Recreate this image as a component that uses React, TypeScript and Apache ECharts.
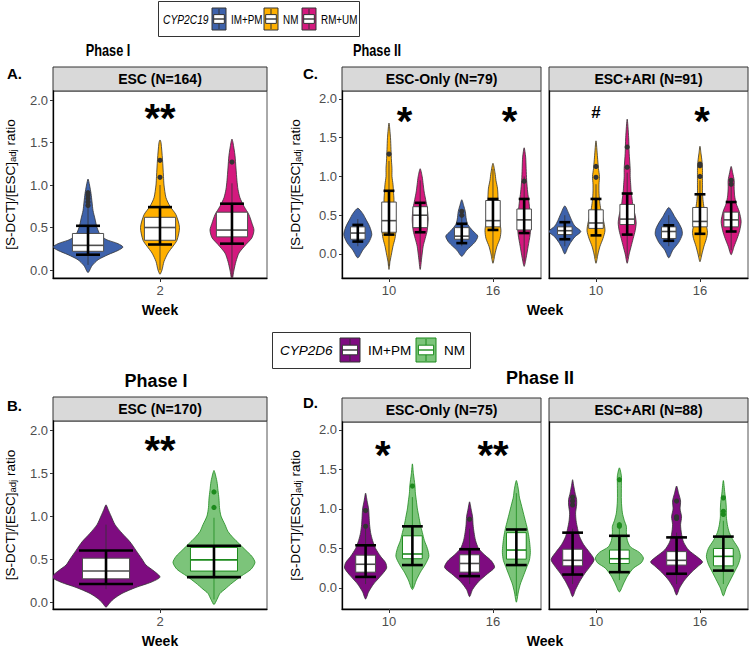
import React, { useEffect, useRef } from "react";
import * as echarts from "echarts";

const FONT = "'Liberation Sans', Arial, Helvetica, sans-serif";

// ---------------- DATA ----------------
const weeksPhase1 = ["2"];
const weeksPhase2 = ["10", "16"];
const groups2C19 = ["IM+PM", "NM", "RM+UM"];
const groups2D6 = ["IM+PM", "NM"];
const stripA = ["ESC (N=164)"];
const stripC = ["ESC-Only (N=79)", "ESC+ARI (N=91)"];
const stripB = ["ESC (N=170)"];
const stripD = ["ESC-Only (N=75)", "ESC+ARI (N=88)"];
const yTicks = [0, 0.5, 1, 1.5, 2];

// violin profiles: [ratio, relative density]
const profA = [
  [[-0.03, 0], [0.05, 4], [0.12, 10], [0.18, 20], [0.23, 30], [0.27, 35], [0.31, 30], [0.36, 18], [0.42, 12], [0.5, 9], [0.6, 7], [0.7, 5], [0.8, 4], [0.9, 3], [1.0, 1.5], [1.07, 0]],
  [[-0.05, 0], [0.0, 2], [0.1, 4], [0.2, 8], [0.28, 13], [0.35, 17], [0.5, 19.5], [0.65, 16], [0.75, 10], [0.85, 6], [1.0, 4], [1.1, 3.5], [1.3, 2.5], [1.5, 1], [1.53, 0]],
  [[-0.12, 0], [0.0, 2], [0.1, 4], [0.2, 7], [0.3, 14], [0.38, 20], [0.47, 22], [0.55, 20], [0.65, 17], [0.75, 12], [0.85, 8], [0.95, 6], [1.05, 5], [1.2, 4], [1.35, 3], [1.5, 1], [1.54, 0]],
];
const boxA = [[0.22, 0.29, 0.43], [0.35, 0.5, 0.62], [0.39, 0.47, 0.68]];
const whiskA = [[0.06, 0.74], [0.0, 1.0], [-0.1, 1.02]];
const errA = [[0.18, 0.52], [0.3, 0.74], [0.31, 0.78]];
const outA = [[0.76, 0.8, 0.84, 0.88, 0.91], [1.09, 1.29], [1.27]];

const profB = [
  [[-0.06, 0], [-0.02, 3], [0.03, 7], [0.1, 16], [0.17, 30], [0.23, 45], [0.29, 54], [0.36, 48], [0.43, 40], [0.5, 36], [0.6, 30], [0.7, 24], [0.8, 16], [0.9, 9], [1.0, 5], [1.08, 2], [1.13, 0]],
  [[-0.03, 0], [0.03, 3], [0.1, 6], [0.15, 11], [0.22, 18], [0.3, 27], [0.38, 37], [0.46, 41], [0.53, 38], [0.6, 32], [0.68, 25], [0.75, 19], [0.82, 14], [0.9, 11], [1.0, 7], [1.1, 5.5], [1.2, 5], [1.3, 4], [1.4, 3], [1.5, 1], [1.53, 0]],
];
const boxB = [[0.27, 0.36, 0.51], [0.36, 0.49, 0.635]];
const whiskB = [[0.15, 0.9], [0.03, 0.98]];
const errB = [[0.21, 0.6], [0.29, 0.655]];
const outB = [[], [1.1, 1.28]];

// order: ESC-Only wk10 (3 groups), wk16, ESC+ARI wk10, wk16
const profC = [
  [[-0.05, 0], [0.05, 5], [0.15, 11], [0.25, 14], [0.35, 12], [0.45, 8], [0.52, 5], [0.59, 0]],
  [[-0.2, 0], [-0.1, 1], [0.0, 2.5], [0.1, 4], [0.2, 6], [0.3, 7], [0.4, 6.5], [0.5, 5.5], [0.6, 5], [0.7, 5], [0.8, 4.5], [0.9, 4], [1.0, 3], [1.1, 3], [1.2, 2.5], [1.35, 2], [1.5, 1.5], [1.69, 0]],
  [[-0.2, 0], [-0.05, 1.5], [0.1, 3], [0.2, 5], [0.3, 7], [0.45, 8], [0.6, 7], [0.7, 5.5], [0.8, 4], [0.9, 3], [1.0, 2], [1.1, 0]],
  [[-0.03, 0], [0.05, 5], [0.15, 13], [0.23, 16], [0.3, 11], [0.38, 6], [0.45, 4.5], [0.55, 3.5], [0.62, 2], [0.7, 0]],
  [[-0.12, 0], [0.0, 2], [0.1, 4], [0.2, 7], [0.3, 8], [0.4, 7], [0.5, 6], [0.6, 5], [0.75, 5], [0.85, 4.5], [0.95, 3], [1.05, 2], [1.17, 0]],
  [[-0.16, 0], [-0.05, 2], [0.1, 4], [0.25, 6], [0.35, 6.5], [0.5, 6], [0.65, 5], [0.8, 3.5], [0.95, 2.5], [1.1, 2], [1.25, 1.5], [1.37, 0]],
  [[0.0, 0], [0.08, 3], [0.15, 6], [0.22, 10], [0.29, 16], [0.36, 10], [0.43, 7], [0.52, 4], [0.62, 0]],
  [[-0.12, 0], [0.0, 2], [0.1, 4], [0.2, 7], [0.3, 9], [0.4, 8], [0.5, 6], [0.6, 4.5], [0.7, 3.5], [0.8, 3], [0.9, 3], [1.0, 3.5], [1.1, 2.5], [1.25, 1.5], [1.46, 0]],
  [[-0.12, 0], [0.0, 2], [0.1, 4], [0.2, 6], [0.3, 8], [0.4, 9], [0.5, 8], [0.6, 6], [0.7, 5], [0.8, 4], [0.9, 3.5], [1.0, 3], [1.1, 3], [1.3, 2], [1.5, 1.5], [1.74, 0]],
  [[-0.05, 0], [0.05, 4], [0.15, 10], [0.25, 13.5], [0.32, 13], [0.4, 10], [0.48, 6], [0.55, 3], [0.6, 0]],
  [[-0.1, 0], [0.0, 2], [0.1, 4], [0.2, 6.5], [0.28, 7.5], [0.4, 6], [0.5, 5], [0.6, 4], [0.7, 3], [0.8, 2.5], [0.9, 2.5], [1.0, 2.5], [1.1, 2.5], [1.2, 2], [1.3, 1], [1.39, 0]],
  [[-0.01, 0], [0.1, 3], [0.2, 6], [0.3, 8.5], [0.42, 10], [0.55, 8], [0.65, 5], [0.75, 3.5], [0.85, 3], [0.95, 3], [1.05, 1.5], [1.13, 0]],
];
const boxC = [[0.19, 0.27, 0.35], [0.28, 0.43, 0.67], [0.34, 0.5, 0.61], [0.19, 0.23, 0.34], [0.35, 0.43, 0.69], [0.31, 0.44, 0.58], [0.25, 0.3, 0.35], [0.33, 0.4, 0.57], [0.38, 0.45, 0.64], [0.2, 0.29, 0.35], [0.35, 0.42, 0.6], [0.35, 0.44, 0.54]];
const whiskC = [[0.1, 0.45], [-0.15, 1.2], [-0.1, 0.95], [0.1, 0.5], [-0.05, 1.1], [-0.1, 1.0], [0.1, 0.5], [-0.05, 0.9], [-0.05, 1.05], [0.1, 0.5], [-0.03, 0.95], [0.05, 0.9]];
const errC = [[0.16, 0.375], [0.25, 0.815], [0.28, 0.66], [0.14, 0.39], [0.31, 0.71], [0.27, 0.71], [0.19, 0.41], [0.24, 0.71], [0.25, 0.78], [0.17, 0.37], [0.26, 0.77], [0.29, 0.67]];
const outC = [[], [1.29], [], [0.5, 0.55], [], [0.94], [], [0.99, 1.13], [1.12, 1.38], [], [1.0, 1.14, 1.16], [0.9, 0.95]];

// order: ESC-Only wk10 (2 groups), wk16, ESC+ARI wk10, wk16
const profD = [
  [[-0.14, 0], [-0.05, 3], [0.05, 8], [0.15, 15], [0.25, 21], [0.32, 20], [0.4, 15], [0.5, 10], [0.6, 7], [0.7, 5], [0.8, 4], [0.9, 3.5], [1.0, 3], [1.1, 1.5], [1.2, 0]],
  [[-0.02, 0], [0.1, 4], [0.2, 8], [0.3, 13], [0.4, 16.5], [0.5, 15], [0.6, 12], [0.7, 10], [0.8, 8], [0.9, 6.5], [1.0, 5], [1.1, 4], [1.2, 3], [1.3, 2.5], [1.45, 1], [1.57, 0]],
  [[-0.11, 0], [-0.02, 3], [0.08, 9], [0.18, 18], [0.26, 25], [0.34, 22], [0.42, 15], [0.5, 9], [0.6, 6], [0.7, 4.5], [0.8, 3.5], [0.9, 3], [1.0, 1.5], [1.09, 0]],
  [[-0.18, 0], [-0.05, 2], [0.05, 4], [0.15, 7], [0.25, 10], [0.35, 13], [0.45, 14], [0.55, 13.5], [0.65, 12.5], [0.75, 11], [0.85, 9], [0.95, 7], [1.05, 5], [1.15, 3], [1.25, 2], [1.36, 0]],
  [[-0.11, 0], [-0.02, 3], [0.08, 7], [0.18, 12], [0.28, 18], [0.36, 21.5], [0.45, 17], [0.55, 11], [0.65, 7], [0.75, 5], [0.85, 3.5], [0.95, 3], [1.05, 4], [1.12, 4], [1.2, 2.5], [1.3, 1], [1.37, 0]],
  [[-0.05, 0], [0.05, 4], [0.15, 8], [0.25, 14], [0.32, 22], [0.38, 24], [0.45, 20], [0.52, 11], [0.6, 8], [0.7, 7], [0.78, 7], [0.85, 5], [0.95, 3], [1.1, 2], [1.3, 2], [1.42, 2], [1.52, 0]],
  [[-0.09, 0], [0.0, 3], [0.1, 8], [0.2, 15], [0.28, 22], [0.33, 26], [0.4, 20], [0.48, 12], [0.58, 7], [0.68, 5], [0.8, 4], [0.9, 5], [1.0, 3.5], [1.1, 4], [1.2, 2], [1.29, 0]],
  [[-0.1, 0], [0.0, 3], [0.1, 7], [0.2, 11], [0.3, 15], [0.4, 17], [0.5, 15], [0.6, 10], [0.7, 6], [0.8, 4], [0.9, 3], [1.0, 3], [1.1, 2.5], [1.2, 1.5], [1.36, 0]],
];
const boxD = [[0.2, 0.3, 0.415], [0.37, 0.43, 0.66], [0.2, 0.31, 0.42], [0.365, 0.48, 0.7], [0.28, 0.35, 0.49], [0.31, 0.37, 0.48], [0.29, 0.35, 0.46], [0.28, 0.4, 0.5]];
const whiskD = [[0.05, 0.75], [0.0, 1.15], [0.05, 0.75], [-0.1, 1.2], [0.05, 0.75], [0.1, 0.75], [0.05, 0.7], [0.05, 0.85]];
const errD = [[0.14, 0.54], [0.29, 0.78], [0.15, 0.49], [0.29, 0.74], [0.17, 0.7], [0.2, 0.66], [0.18, 0.64], [0.22, 0.65]];
const outD = [[0.78, 0.98], [1.29], [0.87], [], [1.05, 1.1, 1.15], [0.78, 0.8, 1.37], [0.88, 0.9, 1.1], [0.93, 0.97, 1.14]];

// significance marks: [label, week position (1-based), ratio]
const sigA = [["**", 1, 1.88]];
const sigB = [["**", 1, 1.86]];
const sigCLeft = [["*", 1.15, 1.82], ["*", 2.16, 1.82]];
const sigCRight = [["#", 1.0, 1.83], ["*", 2.02, 1.82]];
const sigDLeft = [["*", 0.94, 1.78], ["**", 2.0, 1.78]];
const sigDRight: any[] = [];

// ---------------- STYLE ----------------
const fill2C19 = ["#3E62AB", "#FFB000", "#D4197E"];
const fill2D6 = ["#7E0C80", "#7CC47A"];
const line2D6 = ["#333333", "#1D8A1D"];

type Item = { x: number; prof: number[][]; box: number[]; wh: number[]; err: number[]; out: number[]; fill: string; stroke: string; boxStroke: string; ptColor: string };

function buildItems(prof: number[][][], box: number[][], wh: number[][], err: number[][], out: number[][], facet: number, nWeeks: number, nGroups: number, dodge: number, is2D6: boolean): Item[] {
  const items: Item[] = [];
  for (let w = 0; w < nWeeks; w++) {
    for (let g = 0; g < nGroups; g++) {
      const i = facet * nWeeks * nGroups + w * nGroups + g;
      const off = (g - (nGroups - 1) / 2) * dodge;
      items.push({
        x: w + 1 + off,
        prof: prof[i], box: box[i], wh: wh[i], err: err[i], out: out[i],
        fill: is2D6 ? fill2D6[g] : fill2C19[g],
        stroke: is2D6 ? line2D6[g] : "#333333",
        boxStroke: is2D6 ? (g === 1 ? line2D6[1] : "#4D4D4D") : "#4D4D4D",
        ptColor: is2D6 ? (g === 1 ? line2D6[1] : "#333333") : "#333333",
      });
    }
  }
  return items;
}

function violinSeries(gi: number, items: Item[], k: number, boxW: number, capW: number) {
  return {
    type: "custom",
    xAxisIndex: gi,
    yAxisIndex: gi,
    clip: true,
    silent: true,
    z: 3,
    data: items.map((it) => [it.x, it.box[1]]),
    renderItem: (params: any, api: any) => {
      const it = items[params.dataIndex];
      const pts: number[][] = [];
      for (let i = 0; i < it.prof.length; i++) {
        const [y, d] = it.prof[i];
        pts.push(api.coord([it.x + d * k, y]));
      }
      for (let i = it.prof.length - 1; i >= 0; i--) {
        const [y, d] = it.prof[i];
        if (d === 0) continue;
        pts.push(api.coord([it.x - d * k, y]));
      }
      const ch: any[] = [];
      ch.push({ type: "polygon", shape: { points: pts, smooth: 0.25 }, style: { fill: it.fill, stroke: it.stroke, lineWidth: 0.8 } });
      const w0 = api.coord([it.x, it.wh[0]]);
      const w1 = api.coord([it.x, it.wh[1]]);
      ch.push({ type: "line", shape: { x1: w0[0], y1: w0[1], x2: w1[0], y2: w1[1] }, style: { stroke: it.stroke, lineWidth: 0.8 } });
      const b1 = api.coord([it.x - boxW / 2, it.box[2]]);
      const b2 = api.coord([it.x + boxW / 2, it.box[0]]);
      ch.push({ type: "rect", shape: { x: b1[0], y: b1[1], width: b2[0] - b1[0], height: b2[1] - b1[1] }, style: { fill: "#ffffff", stroke: it.boxStroke, lineWidth: 1 } });
      const m = api.coord([it.x, it.box[1]]);
      ch.push({ type: "line", shape: { x1: b1[0], y1: m[1], x2: b2[0], y2: m[1] }, style: { stroke: it.boxStroke, lineWidth: 1.6 } });
      const e0 = api.coord([it.x, it.err[0]]);
      const e1 = api.coord([it.x, it.err[1]]);
      const cl = api.coord([it.x - capW / 2, it.err[0]]);
      const cr = api.coord([it.x + capW / 2, it.err[1]]);
      ch.push({ type: "line", shape: { x1: e0[0], y1: e0[1], x2: e1[0], y2: e1[1] }, style: { stroke: "#000", lineWidth: 2.6 } });
      ch.push({ type: "line", shape: { x1: cl[0], y1: e0[1], x2: cr[0], y2: e0[1] }, style: { stroke: "#000", lineWidth: 2.6 } });
      ch.push({ type: "line", shape: { x1: cl[0], y1: e1[1], x2: cr[0], y2: e1[1] }, style: { stroke: "#000", lineWidth: 2.6 } });
      it.out.forEach((v) => {
        const p = api.coord([it.x, v]);
        ch.push({ type: "circle", shape: { cx: p[0], cy: p[1], r: 2.6 }, style: { fill: it.ptColor } });
      });
      return { type: "group", children: ch };
    },
  };
}

function sigSeries(gi: number, sigs: any[]) {
  return {
    type: "custom",
    xAxisIndex: gi,
    yAxisIndex: gi,
    silent: true,
    z: 4,
    data: sigs.map((s) => [s[1], s[2]]),
    renderItem: (params: any, api: any) => {
      const s = sigs[params.dataIndex];
      const p = api.coord([s[1], s[2]]);
      const star = s[0] !== "#";
      const fs = star ? 40 : 17;
      return {
        type: "text",
        x: p[0],
        y: p[1] + (star ? fs * 0.2 : 0),
        style: { text: s[0], fontSize: fs, fontWeight: "bold", fontFamily: FONT, fill: "#000", align: "center", verticalAlign: "middle", textAlign: "center", textVerticalAlign: "middle" },
      };
    },
  };
}

const gridRects = [
  { left: 53, top: 91, width: 214, height: 187 },
  { left: 342, top: 91, width: 199, height: 187 },
  { left: 549, top: 91, width: 199, height: 187 },
  { left: 53, top: 421, width: 214, height: 188 },
  { left: 342, top: 422, width: 199, height: 187 },
  { left: 549, top: 422, width: 199, height: 187 },
];
const yRanges = [[-0.094, 2.106], [-0.31, 2.103], [-0.31, 2.103], [-0.081, 2.105], [-0.266, 2.1], [-0.266, 2.1]];
const xRanges = [[0.554, 1.446], [0.548, 2.462], [0.548, 2.462], [0.554, 1.446], [0.548, 2.462], [0.548, 2.462]];
const xLabels = [weeksPhase1, weeksPhase2, weeksPhase2, weeksPhase1, weeksPhase2, weeksPhase2];

const yTitle = "{n|[S-DCT]/[ESC]}{s|adj}{n| ratio}";

function legendKey(x: number, y: number, w: number, h: number, fill: string, stroke: string, boxStroke: string) {
  const cx = x + w / 2;
  return [
    { type: "rect", shape: { x, y, width: w, height: h }, style: { fill, stroke, lineWidth: 1 } },
    { type: "line", shape: { x1: cx, y1: y + 1, x2: cx, y2: y + h - 1 }, style: { stroke: boxStroke, lineWidth: 1 } },
    { type: "rect", shape: { x: x + w * 0.12, y: y + h * 0.3, width: w * 0.76, height: h * 0.4 }, style: { fill: "#fff", stroke: boxStroke, lineWidth: 1 } },
    { type: "line", shape: { x1: x + w * 0.12, y1: y + h * 0.5, x2: x + w * 0.88, y2: y + h * 0.5 }, style: { stroke: boxStroke, lineWidth: 1.4 } },
  ];
}

function txt(text: string, x: number, y: number, size: number, opts: any = {}) {
  return {
    type: "text",
    x,
    y,
    scaleX: opts.scaleX || 1,
    rotation: opts.rotation || 0,
    style: {
      text,
      fontSize: size,
      fontFamily: FONT,
      fontWeight: opts.bold ? "bold" : "normal",
      fontStyle: opts.italic ? "italic" : "normal",
      fill: opts.color || "#000",
      textAlign: opts.align || "left",
      textVerticalAlign: "middle",
      align: opts.align || "left",
      verticalAlign: "middle",
      rich: opts.rich,
    },
  };
}

const yTitleRich = {
  n: { fontSize: 13.5, fontFamily: FONT, fill: "#000", color: "#000", lineHeight: 14, verticalAlign: "top" },
  s: { fontSize: 9.5, fontFamily: FONT, fill: "#000", color: "#000", lineHeight: 10, padding: [6.5, 0, 0, 0], verticalAlign: "bottom" },
};

function buildOption() {
  const itemsA = buildItems(profA, boxA, whiskA, errA, outA, 0, 1, 3, 0.3, false);
  const itemsCL = buildItems(profC, boxC, whiskC, errC, outC, 0, 2, 3, 0.3, false);
  const itemsCR = buildItems(profC, boxC, whiskC, errC, outC, 1, 2, 3, 0.3, false);
  const itemsB = buildItems(profB, boxB, whiskB, errB, outB, 0, 1, 2, 0.45, true);
  const itemsDL = buildItems(profD, boxD, whiskD, errD, outD, 0, 2, 2, 0.45, true);
  const itemsDR = buildItems(profD, boxD, whiskD, errD, outD, 1, 2, 2, 0.45, true);

  const grid = gridRects.map((g) => ({ ...g, show: true, borderColor: "#555", borderWidth: 1, backgroundColor: "#fff", containLabel: false }));

  const xAxis = gridRects.map((g, i) => ({
    type: "value",
    gridIndex: i,
    min: xRanges[i][0],
    max: xRanges[i][1],
    splitLine: { show: false },
    axisLine: { show: true, onZero: false, lineStyle: { color: "#000", width: 1.3 } },
    axisTick: { show: true, length: 4, lineStyle: { color: "#333" }, customValues: xLabels[i].map((_, j) => j + 1) },
    axisLabel: {
      show: true, margin: 6, fontSize: 13, color: "#4D4D4D", fontFamily: FONT,
      customValues: xLabels[i].map((_, j) => j + 1),
      formatter: (v: number) => xLabels[i][Math.round(v) - 1] ?? "",
    },
  }));

  const yAxis = gridRects.map((g, i) => {
    const isLeft = i === 0 || i === 1 || i === 3 || i === 4;
    return {
      type: "value",
      gridIndex: i,
      min: yRanges[i][0],
      max: yRanges[i][1],
      splitLine: { show: false },
      axisLine: { show: true, onZero: false, lineStyle: { color: "#000", width: 1.3 } },
      axisTick: { show: isLeft, length: 3, lineStyle: { color: "#333" }, customValues: yTicks },
      axisLabel: { show: isLeft, margin: 5, fontSize: 13, color: "#4D4D4D", fontFamily: FONT, customValues: yTicks, formatter: (v: number) => v.toFixed(1) },
    };
  });

  const series: any[] = [
    violinSeries(0, itemsA, 1 / 240, 0.13, 0.1),
    violinSeries(1, itemsCL, 1 / 104, 0.14, 0.105),
    violinSeries(2, itemsCR, 1 / 104, 0.14, 0.105),
    violinSeries(3, itemsB, 1 / 240, 0.196, 0.225),
    violinSeries(4, itemsDL, 1 / 104, 0.19, 0.2),
    violinSeries(5, itemsDR, 1 / 104, 0.19, 0.2),
    sigSeries(0, sigA),
    sigSeries(1, sigCLeft),
    sigSeries(2, sigCRight),
    sigSeries(3, sigB),
    sigSeries(4, sigDLeft),
    sigSeries(5, sigDRight),
  ];

  const graphic: any[] = [];
  // strips
  const strips = [stripA[0], stripC[0], stripC[1], stripB[0], stripD[0], stripD[1]];
  gridRects.forEach((g, i) => {
    graphic.push({ type: "rect", shape: { x: g.left, y: g.top - 24, width: g.width, height: 24 }, style: { fill: "#D9D9D9", stroke: "#333", lineWidth: 1 } });
    graphic.push(txt(strips[i], g.left + g.width / 2, g.top - 12, 14, { bold: true, align: "center" }));
  });
  // y-axis titles
  [[10, 184.5], [295, 184.5], [10, 515], [295, 515.5]].forEach(([x, y]) => {
    graphic.push(txt(yTitle, x, y, 13.5, { align: "center", rotation: Math.PI / 2, rich: yTitleRich }));
  });
  // titles
  graphic.push(txt("Phase I", 108, 50, 17, { bold: true, align: "center", scaleX: 0.75 }));
  graphic.push(txt("Phase II", 377, 50, 17, { bold: true, align: "center", scaleX: 0.75 }));
  graphic.push(txt("Phase I", 156, 381, 18, { bold: true, align: "center" }));
  graphic.push(txt("Phase II", 540, 378, 18, { bold: true, align: "center" }));
  // panel letters
  graphic.push(txt("A.", 7, 73, 15, { bold: true }));
  graphic.push(txt("C.", 303, 73, 15, { bold: true }));
  graphic.push(txt("B.", 7, 405, 15, { bold: true }));
  graphic.push(txt("D.", 303, 402, 15, { bold: true }));
  // Week
  graphic.push(txt("Week", 160, 310, 14, { bold: true, align: "center" }));
  graphic.push(txt("Week", 545, 310, 14, { bold: true, align: "center" }));
  graphic.push(txt("Week", 160, 641, 14, { bold: true, align: "center" }));
  graphic.push(txt("Week", 545, 641, 14, { bold: true, align: "center" }));

  // top legend
  graphic.push({ type: "rect", shape: { x: 158.5, y: 1.5, width: 201, height: 35 }, style: { fill: "#fff", stroke: "#333", lineWidth: 1 } });
  graphic.push(txt("CYP2C19", 163, 19, 13.5, { italic: true, scaleX: 0.76 }));
  const keyX1 = [212, 264, 302];
  const labX1 = [231, 283, 321];
  groups2C19.forEach((g, i) => {
    legendKey(keyX1[i], 8, 14, 22, fill2C19[i], "#333", "#333").forEach((e) => graphic.push(e));
    graphic.push(txt(g, labX1[i], 19, 13, { scaleX: 0.76 }));
  });
  // bottom legend
  graphic.push({ type: "rect", shape: { x: 272.5, y: 332.5, width: 198, height: 36 }, style: { fill: "#fff", stroke: "#333", lineWidth: 1 } });
  graphic.push(txt("CYP2D6", 280, 350, 13.5, { italic: true }));
  const keyX2 = [340, 416];
  const labX2 = [368, 444];
  groups2D6.forEach((g, i) => {
    legendKey(keyX2[i], 338, 20, 24, fill2D6[i], line2D6[i], line2D6[i]).forEach((e) => graphic.push(e));
    graphic.push(txt(g, labX2[i], 350, 13.5));
  });

  return { animation: false, backgroundColor: "#fff", grid, xAxis, yAxis, series, graphic };
}

export default function App() {
  const ref = useRef<HTMLDivElement>(null);
  useEffect(() => {
    if (!ref.current) return;
    const chart = echarts.init(ref.current, undefined, { renderer: "svg" });
    chart.setOption(buildOption() as any);
    return () => chart.dispose();
  }, []);
  return <div ref={ref} style={{ position: "absolute", left: 0, top: 0, width: 749, height: 648 }} />;
}
